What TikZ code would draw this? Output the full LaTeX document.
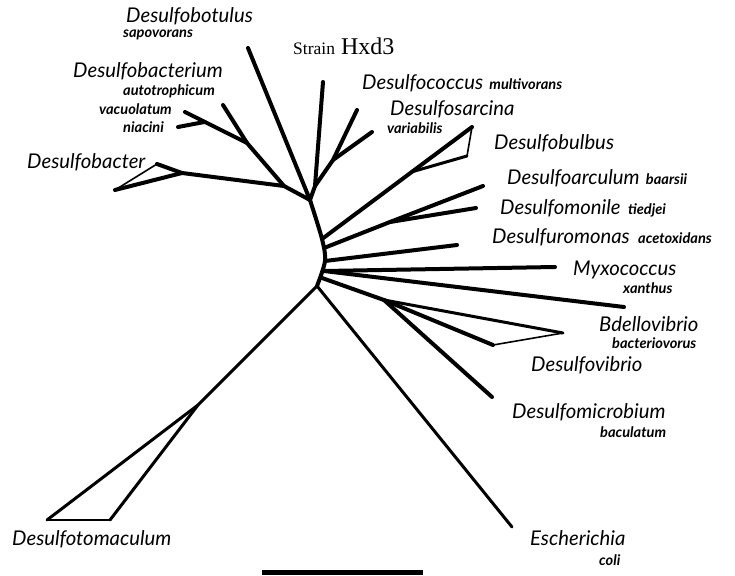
\documentclass[tikz,border=0pt]{standalone}
\usepackage{fontspec}
\newfontfamily\labelfont{Lato}
\newfontfamily\strainfont{Liberation Serif}
\usetikzlibrary{calc,positioning}
\tikzstyle{genus}=[
	font=\labelfont\itshape\fontsize{20.3}{23}\selectfont,
	inner sep=0,
	anchor=west]
\tikzstyle{species}=[
	font=\labelfont\bfseries\itshape\fontsize{14.6}{16}\selectfont,
	inner sep=0,
	anchor=west]
\tikzstyle{strain}=[
	font=\strainfont\fontsize{24}{26}\selectfont,
	inner sep=0,
	anchor=west]
\tikzstyle{branch}=[
	line width=4pt,
	line cap=round,
	line join=round]
\tikzstyle{stem}=[
	line width=3pt,
	line cap=round,
	line join=round]
\tikzstyle{twig}=[
	line width=1.6pt,
	line cap=round]

\begin{document}
\begin{tikzpicture}[x=1pt,y=-1pt]
	\useasboundingbox (0,0) rectangle (735,575);
	% backbone
	\coordinate (top) at (310,200);
	\coordinate (b1) at (322,239);
	\coordinate (b2) at (324,248);
	\coordinate (b3) at (325,261);
	\coordinate (b4) at (324,271);
	\coordinate (b5) at (322,278);
	\coordinate (bot) at (317,286);
	% upper clade
	\coordinate (botulusT) at (248,48);
	\coordinate (hxdT) at (323,82);
	\coordinate (hxdJ) at (315,186);
	\coordinate (coccJ) at (333,160);
	\coordinate (coccT) at (357,110);
	\coordinate (sarcT) at (372,132);
	\coordinate (bactJ) at (284,186);
	\coordinate (autoJ) at (247,143);
	\coordinate (autoT) at (223,105);
	\coordinate (vacuoT) at (185,112);
	\coordinate (niacJ) at ($(autoJ)!0.68!(vacuoT)$);
	\coordinate (niacT) at (178,127);
	\coordinate (bacterJ) at (182,173);
	\coordinate (bacterL) at (115,190);
	\coordinate (bacterT) at (157,164);
	% right clade
	\coordinate (bulbT) at (472,127);
	\coordinate (bulbJ) at ($(b1)!0.6!(bulbT)$);
	\coordinate (bulbR) at (467,156);
	\coordinate (arcJ) at (390,222);
	\coordinate (arcT) at (483,186);
	\coordinate (monT) at (476,208);
	\coordinate (romT) at (457,245);
	\coordinate (myxT) at (555,267);
	\coordinate (bdelT) at (624,307);
	\coordinate (vibJ) at (384,300);
	\coordinate (vibT) at (563,333);
	\coordinate (vibL) at (493,345);
	\coordinate (microT) at (492,397);
	% lower branches
	\coordinate (tomJ) at (198,405);
	\coordinate (tomL) at (47,520);
	\coordinate (tomR) at (110,520);
	\coordinate (escT) at (512,527);
	\coordinate (barL) at (262,572);
	\coordinate (barR) at (423,572);

	\draw[branch] plot[smooth] coordinates {(top) (b1) (b3) (bot)};
	\draw[branch] (botulusT) -- (top);
	\draw[branch] (hxdT) -- (hxdJ) -- (top);
	\draw[branch] (hxdJ) -- (coccJ) -- (coccT);
	\draw[branch] (coccJ) -- (sarcT);
	\draw[branch] (top) -- (bactJ) -- (autoJ) -- (vacuoT);
	\draw[branch] (autoJ) -- (autoT);
	\draw[branch] (niacT) -- (niacJ);
	\draw[branch] (bactJ) -- (bacterJ) -- (bacterL);
	\draw[branch] (bacterJ) -- (bacterT);
	\draw[twig] (bacterL) -- (bacterT);

	\draw[branch] (b1) -- (bulbT);
	\draw[stem] (bulbJ) -- (bulbR);
	\draw[twig] (bulbR) -- (bulbT);
	\draw[branch] (b2) -- (arcJ) -- (arcT);
	\draw[branch] (arcJ) -- (monT);
	\draw[branch] (b3) -- (romT);
	\draw[branch] (b4) -- (myxT);
	\draw[branch] (b4) -- (bdelT);
	\draw[branch] (b5) -- (vibJ) -- (vibL);
	\draw[stem] (vibJ) -- (vibT);
	\draw[twig] (vibL) -- (vibT);
	\draw[branch] (vibJ) -- (microT);

	\draw[stem] (bot) -- (tomJ) -- (tomL);
	\draw[stem] (tomJ) -- (tomR);
	\draw[twig] (tomL) -- (tomR);
	\draw[stem] (bot) -- (escT);
	\draw[line width=5pt] (barL) -- (barR);

	% labels
	\node[genus] (botulus) at (126,16) {Desulfobotulus};
	\node[species] (sapovorans) at (123,35) {sapovorans};
	\node[strain] (hxd) at (293,46) {{\fontsize{17.5}{19}\selectfont Strain} Hxd3};
	\node[genus] (bacterium) at (73,71) {Desulfobacterium};
	\node[species] (autotrophicum) at (123,91) {autotrophicum};
	\node[species] (vacuolatum) at (99,109) {vacuolatum};
	\node[species] (niacini) at (123,127) {niacini};
	\node[genus] (bacter) at (27,162) {Desulfobacter};
	\node[genus] (coccus) at (362,83) {Desulfococcus};
	\node[species] (multivorans) [base right=6pt of coccus] {multivorans};
	\node[genus] (sarcina) at (390,109) {Desulfosarcina};
	\node[species] (variabilis) at (387,128) {variabilis};
	\node[genus] (bulbus) at (494,143) {Desulfobulbus};
	\node[genus] (arculum) at (507,178) {Desulfoarculum};
	\node[species] (baarsii) [base right=6pt of arculum] {baarsii};
	\node[genus] (monile) at (500,208) {Desulfomonile};
	\node[species] (tiedjei) [base right=7pt of monile] {tiedjei};
	\node[genus] (romonas) at (492,237) {Desulfuromonas};
	\node[species] (acetoxidans) [base right=8pt of romonas] {acetoxidans};
	\node[genus] (myxo) at (573,270) {Myxococcus};
	\node[species] (xanthus) at (623,288) {xanthus};
	\node[genus] (bdello) at (599,324) {Bdellovibrio};
	\node[species] (bacteriovorus) at (612,343) {bacteriovorus};
	\node[genus] (vibrio) at (531,365) {Desulfovibrio};
	\node[genus] (micro) at (512,412) {Desulfomicrobium};
	\node[species] (baculatum) at (600,432) {baculatum};
	\node[genus] (toma) at (12,539) {Desulfotomaculum};
	\node[genus] (esch) at (530,538) {Escherichia};
	\node[species] (coli) at (599,560) {coli};
\end{tikzpicture}
\end{document}
